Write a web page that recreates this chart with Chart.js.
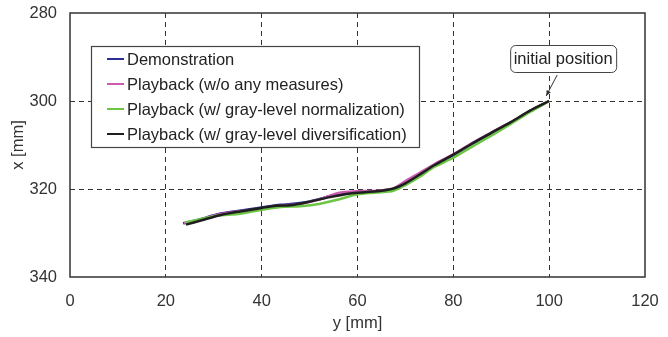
<!DOCTYPE html>
<html>
<head>
<meta charset="utf-8">
<script src="https://cdn.jsdelivr.net/npm/chart.js@4.4.1/dist/chart.umd.min.js"></script>
<style>
  html, body { margin: 0; padding: 0; background: #fff; }
  #wrap { width: 668px; height: 337px; position: relative; }
</style>
</head>
<body>
<div id="wrap"><canvas id="c"></canvas></div>
<script>
// y [mm] (horizontal) / x [mm] (vertical, reversed)
const demoX  = [23.6, 27, 31, 35, 40, 44, 48, 52, 56, 60, 64, 67.5, 70, 73, 76, 80, 84, 88, 92, 96, 100];
const demoY  = [327.8, 326.9, 325.7, 325.0, 324.2, 323.6, 323.2, 322.3, 321.1, 320.7, 320.5, 320.2, 318.9, 316.8, 314.6, 312.3, 309.7, 307.3, 304.9, 302.3, 300.0];
const pinkX  = [23.8, 27, 31, 35, 40, 44, 48, 52, 56, 60, 64, 67.5, 70, 73, 76, 80, 84, 88, 92, 96, 100];
const pinkY  = [327.8, 327.0, 325.8, 325.1, 324.6, 323.8, 323.4, 322.4, 320.9, 320.5, 320.4, 319.9, 318.2, 316.3, 314.4, 312.1, 309.5, 307.1, 304.8, 302.3, 300.0];
const greenX = [24.0, 27, 31, 35, 40, 44, 48, 52, 56, 60, 64, 67.5, 70, 73, 76, 80, 84, 88, 92, 96, 100];
const greenY = [327.6, 326.9, 326.0, 325.7, 324.7, 324.1, 323.9, 323.4, 322.4, 321.2, 320.8, 320.4, 319.1, 317.2, 315.0, 312.9, 310.3, 307.8, 305.2, 302.5, 300.0];
const blackX = [24.2, 27.5, 31.5, 35.5, 40, 43, 46, 49.5, 54, 58.5, 62, 65, 67.5, 70, 73, 76, 80, 84, 88, 92, 96, 100];
const blackY = [328.1, 327.1, 325.9, 325.1, 324.3, 323.8, 323.7, 323.0, 321.9, 321.0, 320.7, 320.4, 319.9, 318.7, 316.7, 314.6, 312.2, 309.6, 307.2, 304.8, 302.2, 300.0];

const seriesLabels = [
  "Demonstration",
  "Playback (w/o any measures)",
  "Playback (w/ gray-level normalization)",
  "Playback (w/ gray-level diversification)"
];
const xTicks = [0, 20, 40, 60, 80, 100, 120];
const yTicks = [280, 300, 320, 340];
const startPoint = { x: 100, y: 300, text: "initial position" };

const FONT = "'Liberation Sans', Arial, sans-serif";
const TXT = "#333";
const FS = 16.5;

function pts(xs, ys) {
  return xs.map((x, i) => ({ x: x, y: ys[i] }));
}

// frame + in-plot legend + callout
const decor = {
  id: "decor",
  afterDraw(chart) {
    const ctx = chart.ctx;
    const a = chart.chartArea;
    ctx.save();
    ctx.strokeStyle = "#333";
    ctx.lineWidth = 1.5;
    ctx.strokeRect(a.left, a.top, a.right - a.left, a.bottom - a.top);

    // legend
    const lx = 91, ly = 46, lw = 328, lh = 101;
    ctx.fillStyle = "#fff";
    ctx.fillRect(lx, ly, lw, lh);
    ctx.lineWidth = 1.2;
    ctx.strokeStyle = "#444";
    ctx.strokeRect(lx + 0.5, ly + 0.5, lw, lh);
    ctx.font = FS + "px " + FONT;
    ctx.textBaseline = "middle";
    chart.data.datasets.forEach((ds, i) => {
      const y = ly + 13 + i * 25;
      ctx.strokeStyle = ds.borderColor;
      ctx.lineWidth = 2;
      ctx.beginPath();
      ctx.moveTo(lx + 16, y);
      ctx.lineTo(lx + 33, y);
      ctx.stroke();
      ctx.fillStyle = "#222";
      ctx.fillText(ds.label, lx + 36, y + 1);
    });

    // callout
    const sx = chart.scales.x.getPixelForValue(startPoint.x);
    const sy = chart.scales.y.getPixelForValue(startPoint.y);
    const bw = 106, bh = 27;
    const bx = sx - 39, by = sy - 56;
    ctx.fillStyle = "#fff";
    ctx.strokeStyle = "#444";
    ctx.lineWidth = 1;
    ctx.beginPath();
    ctx.roundRect(bx + 0.5, by + 0.5, bw, bh, 5);
    ctx.fill();
    ctx.stroke();
    ctx.fillStyle = "#222";
    ctx.textAlign = "center";
    ctx.fillText(startPoint.text, bx + bw / 2, by + bh / 2 + 1);

    // arrow
    const tx = sx - 3, ty = sy - 5;
    const fx = sx + 8, fy = by + bh + 3;
    ctx.strokeStyle = "#333";
    ctx.lineWidth = 1;
    ctx.beginPath();
    ctx.moveTo(fx, fy);
    ctx.lineTo(tx, ty);
    ctx.stroke();
    const ang = Math.atan2(ty - fy, tx - fx);
    ctx.fillStyle = "#333";
    ctx.beginPath();
    ctx.moveTo(tx, ty);
    ctx.lineTo(tx - 6 * Math.cos(ang - 0.4), ty - 6 * Math.sin(ang - 0.4));
    ctx.lineTo(tx - 6 * Math.cos(ang + 0.4), ty - 6 * Math.sin(ang + 0.4));
    ctx.closePath();
    ctx.fill();
    ctx.restore();
  }
};

function ds(label, xs, ys, color, width, order) {
  return {
    label: label,
    data: pts(xs, ys),
    borderColor: color,
    backgroundColor: color,
    borderWidth: width,
    pointRadius: 0,
    showLine: true,
    tension: 0.25,
    order: order
  };
}

new Chart(document.getElementById("c"), {
  type: "scatter",
  data: {
    datasets: [
      ds(seriesLabels[0], demoX, demoY, "#2b2f8f", 2.5, 4),
      ds(seriesLabels[1], pinkX, pinkY, "#c95bb0", 2.5, 3),
      ds(seriesLabels[2], greenX, greenY, "#6cc644", 2.5, 2),
      ds(seriesLabels[3], blackX, blackY, "#1e1e1e", 2.5, 1)
    ]
  },
  options: {
    responsive: true,
    maintainAspectRatio: false,
    animation: false,
    layout: { padding: { top: 13, right: 23, left: 0, bottom: 0 } },
    plugins: { legend: { display: false }, tooltip: { enabled: false } },
    scales: {
      x: {
        type: "linear",
        min: 0, max: 120,
        afterBuildTicks: (s) => { s.ticks = xTicks.map((v) => ({ value: v })); },
        afterFit: (s) => { s.height = 60; s.paddingLeft = 0; s.paddingRight = 0; },
        border: { display: false, dash: [5, 4] },
        grid: {
          color: (c) => (c.tick.value === 0 || c.tick.value === 120) ? "rgba(0,0,0,0)" : "#333",
          lineWidth: 1,
          drawTicks: false
        },
        ticks: { color: TXT, font: { family: FONT, size: FS }, padding: 15, maxRotation: 0 },
        title: { display: true, text: "y [mm]", color: TXT, font: { family: FONT, size: FS }, padding: { top: 2, bottom: 4 } }
      },
      y: {
        type: "linear",
        reverse: true,
        min: 280, max: 340,
        afterBuildTicks: (s) => { s.ticks = yTicks.map((v) => ({ value: v })); },
        afterFit: (s) => { s.width = 70; s.paddingTop = 0; s.paddingBottom = 0; },
        border: { display: false, dash: [5, 4] },
        grid: {
          color: (c) => (c.tick.value === 280 || c.tick.value === 340) ? "rgba(0,0,0,0)" : "#333",
          lineWidth: 1,
          drawTicks: false
        },
        ticks: { color: TXT, font: { family: FONT, size: FS }, padding: 13 },
        title: { display: true, text: "x [mm]", color: TXT, font: { family: FONT, size: FS }, padding: { top: 9, bottom: 4 } }
      }
    }
  },
  plugins: [decor]
});
</script>
</body>
</html>
